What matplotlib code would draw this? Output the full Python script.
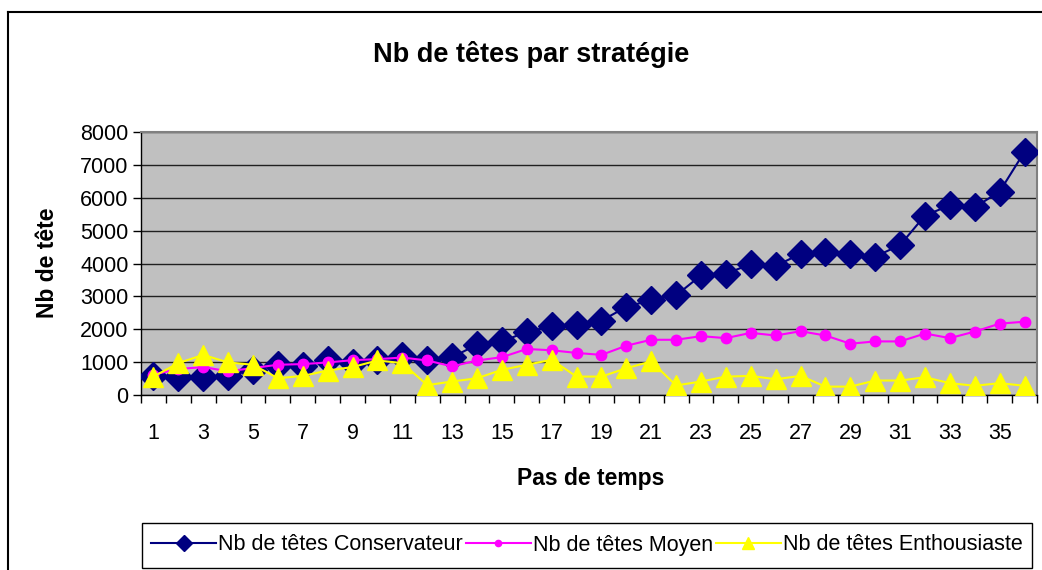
import numpy as np
import matplotlib
matplotlib.use("Agg")
import matplotlib.pyplot as plt
from matplotlib.lines import Line2D
from matplotlib.patches import Rectangle

plt.rcParams['font.family'] = ['Liberation Sans', 'DejaVu Sans']

steps = list(range(1, 37))
conservateur = [580, 560, 560, 570, 770, 900, 890, 1060, 970, 1070, 1200, 1060,
                1150, 1530, 1630, 1920, 2090, 2140, 2260, 2680, 2890, 3030, 3640, 3690,
                3980, 3930, 4290, 4350, 4290, 4210, 4560, 5460, 5770, 5710, 6190, 7400]
moyen = [620, 790, 850, 720, 820, 920, 940, 990, 1060, 1090, 1140, 1050,
         870, 1050, 1150, 1400, 1360, 1280, 1220, 1500, 1680, 1680, 1790, 1730,
         1890, 1810, 1940, 1810, 1560, 1630, 1630, 1870, 1730, 1930, 2170, 2230]
enthousiaste = [560, 970, 1220, 990, 920, 510, 580, 745, 850, 1050, 970, 300,
                410, 510, 765, 920, 1070, 560, 560, 815, 1020, 290, 410, 560,
                580, 480, 580, 255, 255, 440, 440, 540, 360, 280, 360, 280]
y_ticks = list(range(0, 8001, 1000))
x_labels = [str(s) for s in steps[::2]]

W, H = 1042, 570
fig = plt.figure(figsize=(W / 100, H / 100), dpi=100)
fig.patch.set_facecolor('white')

ax = fig.add_axes([141 / W, 1 - 395 / H, (1037 - 141) / W, (395 - 132) / H])
ax.set_facecolor('#C0C0C0')

ax.plot(steps, conservateur, color='#000080', lw=1.5, marker='D', ms=14,
        label='Nb de têtes Conservateur', zorder=3)
ax.plot(steps, moyen, color='#FF00FF', lw=1.5, marker='o', ms=7.5,
        label='Nb de têtes Moyen', zorder=4)
ax.plot(steps, enthousiaste, color='#FFFF00', lw=1.5, marker='^', ms=14,
        label='Nb de têtes Enthousiaste', zorder=5)

ax.set_xlim(0.5, 36.5)
ax.set_ylim(0, 8000)
ax.set_yticks(y_ticks)
ax.set_yticklabels([str(v) for v in y_ticks], fontsize=15.5)
ax.yaxis.grid(True, color='#202020', lw=1)
ax.set_axisbelow(True)

ax.set_xticks(steps[::2])
ax.set_xticklabels(x_labels, fontsize=15.5)
ax.set_xticks(np.arange(0.5, 37, 1), minor=True)
ax.tick_params(axis='x', which='major', length=0, pad=20)
ax.tick_params(axis='x', which='minor', length=6, width=1, color='black')
ax.tick_params(axis='y', length=6, width=1, pad=3)

for s in ['top', 'right']:
    ax.spines[s].set_color('#808080')
    ax.spines[s].set_linewidth(1.5)
for s in ['left', 'bottom']:
    ax.spines[s].set_color('black')
    ax.spines[s].set_linewidth(1)

fig.text(531 / W, 1 - 55 / H, 'Nb de têtes par stratégie', fontsize=19.5,
         fontweight='bold', ha='center', va='center')
fig.text(48 / W, 1 - 263 / H, 'Nb de tête', fontsize=16.5, fontweight='bold',
         rotation=90, ha='center', va='center')
fig.text(591 / W, 1 - 478 / H, 'Pas de temps', fontsize=16.5, fontweight='bold',
         ha='center', va='center')

# outer chart frame
fig.add_artist(Line2D([8 / W, 8 / W], [0, 1 - 12 / H], color='black', lw=1.5,
                      transform=fig.transFigure))
fig.add_artist(Line2D([8 / W, 1], [1 - 12 / H, 1 - 12 / H], color='black', lw=1.5,
                      transform=fig.transFigure))

# legend box
fig.add_artist(Rectangle((142 / W, 1 - 568 / H), (1032 - 142) / W, (568 - 523) / H,
                         transform=fig.transFigure, fill=False, ec='black', lw=1))
handles, labels = ax.get_legend_handles_labels()
leg = fig.legend(handles, labels, loc='center', bbox_to_anchor=(587 / W, 1 - 545 / H),
                 ncol=3, frameon=False, fontsize=15.5, handlelength=3.0,
                 handletextpad=0.1, columnspacing=0.15, markerscale=0.6)

fig.savefig('out.png', dpi=100)
